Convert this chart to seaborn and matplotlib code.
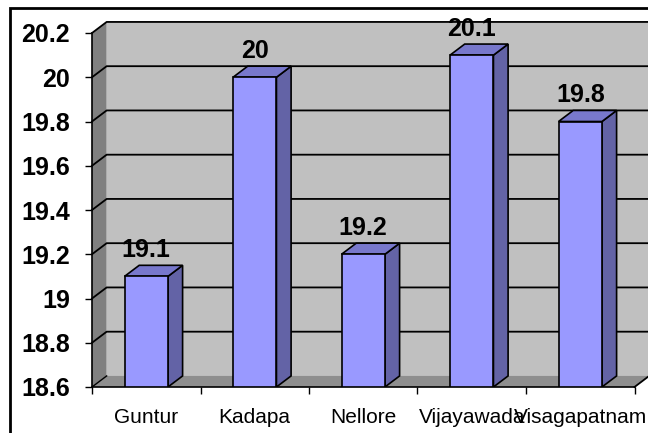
import numpy as np
import matplotlib
matplotlib.use("Agg")
import matplotlib.pyplot as plt
from matplotlib import font_manager
from matplotlib.patches import Polygon, Rectangle
import seaborn as sns

# data
cities = ["Guntur", "Kadapa", "Nellore", "Vijayawada", "Visagapatnam"]
values = [19.1, 20.0, 19.2, 20.1, 19.8]
y_ticks = [18.6, 18.8, 19.0, 19.2, 19.4, 19.6, 19.8, 20.0, 20.2]

# font for category labels (narrow, like Arial Narrow)
try:
    font_manager.findfont("Liberation Sans Narrow", fallback_to_default=False)
    cat_font, cat_size = "Liberation Sans Narrow", 18
except Exception:
    cat_font, cat_size = "Liberation Sans", 15

fig = plt.figure(figsize=(6.48, 4.33), dpi=100)
ax = fig.add_axes([92 / 648, 46 / 433, 558 / 648, 365 / 433])

ymin, ymax = y_ticks[0], y_ticks[-1]
dx, dy = 0.135, 0.05          # depth offset of the 3d effect (data units)
bw = 0.4                      # bar width
n = len(cities)

sns.barplot(x=cities, y=values, color="#9999FF", width=bw, saturation=1,
            edgecolor="black", linewidth=1.2, ax=ax, zorder=4)

# walls and floor
ax.add_patch(Polygon([(-0.5 + dx, ymin + dy), (n - 0.5 + dx, ymin + dy),
                      (n - 0.5 + dx, ymax + dy), (-0.5 + dx, ymax + dy)],
                     closed=True, facecolor="#C0C0C0", edgecolor="none", zorder=0))
ax.add_patch(Polygon([(-0.5, ymin), (-0.5 + dx, ymin + dy),
                      (-0.5 + dx, ymax + dy), (-0.5, ymax)],
                     closed=True, facecolor="#808080", edgecolor="none", zorder=0.5))
ax.add_patch(Polygon([(-0.5, ymin), (n - 0.5, ymin),
                      (n - 0.5 + dx, ymin + dy), (-0.5 + dx, ymin + dy)],
                     closed=True, facecolor="#8E8E8E", edgecolor="none", zorder=0.6))

# gridlines on back wall + side wall
for v in y_ticks[1:]:
    ax.plot([-0.5, -0.5 + dx, n - 0.5 + dx], [v, v + dy, v + dy],
            color="black", lw=1.3, zorder=1, clip_on=False)
ax.plot([-0.5, -0.5 + dx], [ymin, ymin + dy], color="black", lw=1.0, zorder=1)
ax.plot([n - 0.5, n - 0.5 + dx], [ymin, ymin + dy], color="black", lw=1.3,
        zorder=1, clip_on=False)

# side and top faces of the bars, value labels
for i, v in enumerate(values):
    l, r = i - bw / 2, i + bw / 2
    ax.add_patch(Polygon([(r, ymin), (r + dx, ymin + dy), (r + dx, v + dy), (r, v)],
                         closed=True, facecolor="#6363A6", edgecolor="black",
                         lw=1.2, zorder=3.9))
    ax.add_patch(Polygon([(l, v), (r, v), (r + dx, v + dy), (l + dx, v + dy)],
                         closed=True, facecolor="#7878CC", edgecolor="black",
                         lw=1.2, zorder=3.9))
    ax.annotate(f"{v:g}", (i, v + dy), xytext=(0, 6), textcoords="offset points",
                ha="center", va="baseline", fontsize=18, fontweight="bold",
                family="Liberation Sans", zorder=5)

ax.set_xlim(-0.5, -0.5 + 558 / 108.5)
ax.set_ylim(ymin, ymin + 365 / 221.25)

for s in ["top", "right"]:
    ax.spines[s].set_visible(False)
ax.spines["left"].set_bounds(ymin, ymax)
ax.spines["bottom"].set_bounds(-0.5, n - 0.5)
for s in ["left", "bottom"]:
    ax.spines[s].set_linewidth(1.2)
    ax.spines[s].set_zorder(6)

ax.set_yticks(y_ticks)
ax.set_yticklabels([f"{v:g}" for v in y_ticks], fontsize=18, fontweight="bold",
                   family="Liberation Sans")
ax.tick_params(axis="y", length=5, width=1, pad=11)

ax.set_xticks(np.arange(n + 1) - 0.5)
ax.set_xticklabels([])
ax.set_xticks(np.arange(n), minor=True)
ax.set_xticklabels(cities, minor=True, fontsize=cat_size, family=cat_font)
ax.tick_params(axis="x", which="major", length=5, width=1)
ax.tick_params(axis="x", which="minor", length=0, pad=15)
ax.set_xlabel("")
ax.set_ylabel("")
ax.patch.set_visible(False)

# outer frame
fig.patches.append(Rectangle((10 / 648, -0.2), 1.2, 1.2 - 8 / 433,
                             transform=fig.transFigure, fill=False,
                             edgecolor="black", lw=2))

fig.savefig("out.png", dpi=100)
